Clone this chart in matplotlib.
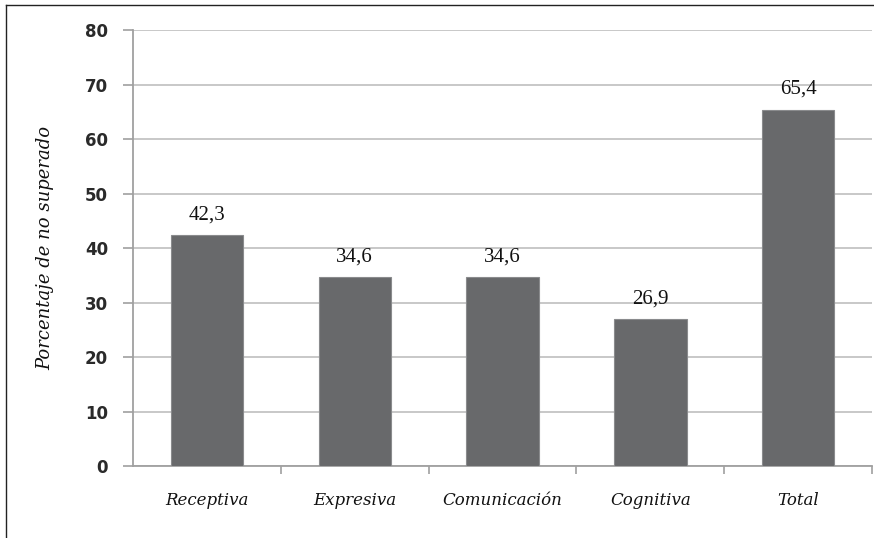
import matplotlib
matplotlib.use('Agg')
import matplotlib.pyplot as plt
from matplotlib.lines import Line2D

categories = ['Receptiva', 'Expresiva', 'Comunicación', 'Cognitiva', 'Total']
values = [42.3, 34.6, 34.6, 26.9, 65.4]
value_labels = ['42,3', '34,6', '34,6', '26,9', '65,4']
yticks = [0, 10, 20, 30, 40, 50, 60, 70, 80]
ylabel = 'Porcentaje de no superado'

fig = plt.figure(figsize=(8.74, 5.38), dpi=100)
ax = fig.add_axes([0.1522, 0.1338, 0.8455, 0.8104])

x = list(range(len(categories)))
ax.bar(x, values, width=0.49, color='#68696b', edgecolor='#8a8b8d', linewidth=0.8, zorder=3)

for xi, v, lab in zip(x, values, value_labels):
    ax.text(xi, v + 2.0, lab, ha='center', va='bottom', fontsize=15,
            family='Liberation Serif', color='#111111')

ax.set_xlim(-0.5, len(categories) - 0.5)
ax.set_ylim(0, 80)
ax.set_yticks(yticks)
ax.set_yticklabels([str(t) for t in yticks], fontsize=12, family='DejaVu Sans',
                   fontweight='bold', color='#2a2a2a')
ax.yaxis.grid(True, color='#c4c4c4', linewidth=1.3, zorder=0)

# category boundaries as tick marks, labels centred on bars
ax.set_xticks([i + 0.5 for i in x])
ax.set_xticklabels([])
ax.set_xticks(x, minor=True)
ax.set_xticklabels(categories, minor=True, fontsize=12, family='DejaVu Serif',
                   style='italic', color='#111111')
ax.tick_params(axis='x', which='minor', length=0, pad=19)
ax.tick_params(axis='x', which='major', length=6, color='#a0a0a0', width=1.2)
ax.tick_params(axis='y', length=7, color='#a0a0a0', width=1.2, pad=11)

for s in ['top', 'right']:
    ax.spines[s].set_visible(False)
for s in ['left', 'bottom']:
    ax.spines[s].set_color('#a0a0a0')
    ax.spines[s].set_linewidth(1.3)

fig.text(0.052, 0.54, ylabel, rotation=90, ha='center', va='center', fontsize=13,
         family='DejaVu Serif', style='italic', color='#111111')

# thin frame lines at left and top of the picture
fig.add_artist(Line2D([0.007, 0.007], [0, 0.991], transform=fig.transFigure, color='#222222', linewidth=1))
fig.add_artist(Line2D([0.007, 1.0], [0.991, 0.991], transform=fig.transFigure, color='#222222', linewidth=1))

plt.savefig('out.png', dpi=100)
